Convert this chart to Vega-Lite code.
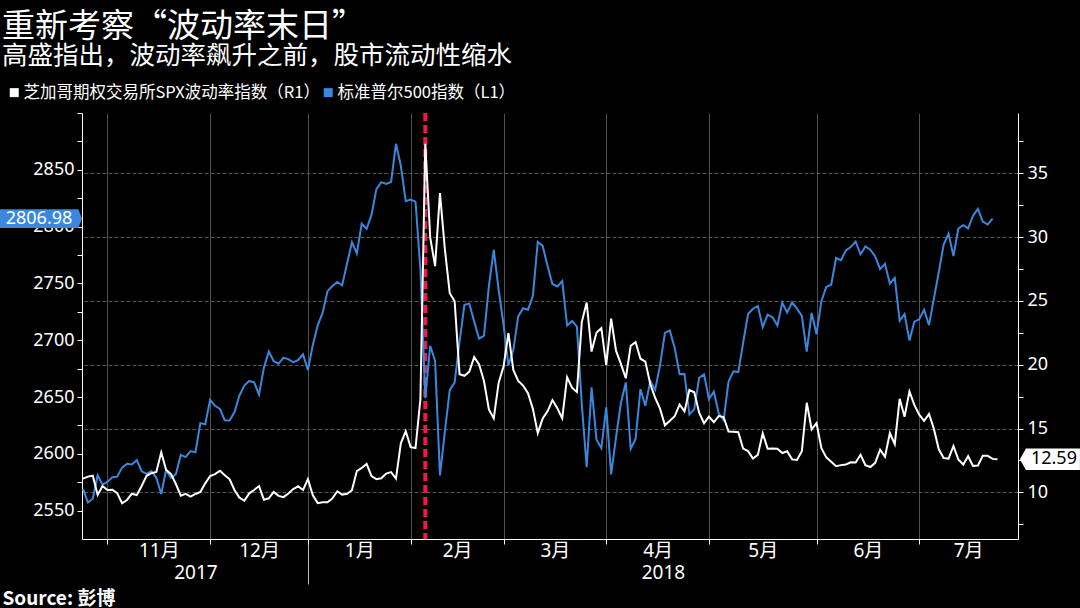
{
  "$schema": "https://vega.github.io/schema/vega-lite/v6.json",
  "width": 936,
  "height": 426,
  "autosize": {"type": "none"},
  "padding": {"left": 82, "top": 113, "right": 62, "bottom": 69},
  "background": "#000000",
  "config": {
    "view": {"stroke": null},
    "axis": {
      "domainColor": "#ffffff",
      "tickColor": "#ffffff",
      "labelColor": "#ffffff",
      "labelFont": "Noto Sans, Noto Sans CJK SC",
      "labelFontSize": 18,
      "titleColor": "#ffffff"
    }
  },
  "title": {
    "text": "重新考察“波动率末日”",
    "subtitle": "高盛指出，波动率飙升之前，股市流动性缩水",
    "anchor": "start",
    "frame": "group",
    "dx": -80,
    "offset": 15,
    "font": "Noto Sans CJK SC",
    "fontSize": 33,
    "fontWeight": "normal",
    "color": "#ffffff",
    "subtitleFont": "Noto Sans CJK SC",
    "subtitleFontSize": 25.5,
    "subtitleColor": "#ffffff",
    "subtitlePadding": 0
  },
  "datasets": {
    "mkt": [
      {"i":0,"date":"2017-10-24","spx":2569.13,"vix":11.07},
      {"i":1,"date":"2017-10-25","spx":2557.15,"vix":11.23},
      {"i":2,"date":"2017-10-26","spx":2560.40,"vix":11.30},
      {"i":3,"date":"2017-10-27","spx":2581.07,"vix":9.80},
      {"i":4,"date":"2017-10-30","spx":2572.83,"vix":10.50},
      {"i":5,"date":"2017-10-31","spx":2575.26,"vix":10.18},
      {"i":6,"date":"2017-11-01","spx":2579.36,"vix":10.20},
      {"i":7,"date":"2017-11-02","spx":2579.85,"vix":9.93},
      {"i":8,"date":"2017-11-03","spx":2587.84,"vix":9.14},
      {"i":9,"date":"2017-11-06","spx":2591.13,"vix":9.40},
      {"i":10,"date":"2017-11-07","spx":2590.64,"vix":9.89},
      {"i":11,"date":"2017-11-08","spx":2594.38,"vix":9.78},
      {"i":12,"date":"2017-11-09","spx":2584.62,"vix":10.50},
      {"i":13,"date":"2017-11-10","spx":2582.30,"vix":11.29},
      {"i":14,"date":"2017-11-13","spx":2584.84,"vix":11.50},
      {"i":15,"date":"2017-11-14","spx":2578.87,"vix":11.59},
      {"i":16,"date":"2017-11-15","spx":2564.62,"vix":13.13},
      {"i":17,"date":"2017-11-16","spx":2585.64,"vix":11.76},
      {"i":18,"date":"2017-11-17","spx":2578.85,"vix":11.43},
      {"i":19,"date":"2017-11-20","spx":2582.14,"vix":10.65},
      {"i":20,"date":"2017-11-21","spx":2599.03,"vix":9.73},
      {"i":21,"date":"2017-11-22","spx":2597.08,"vix":9.88},
      {"i":22,"date":"2017-11-24","spx":2602.42,"vix":9.67},
      {"i":23,"date":"2017-11-27","spx":2601.42,"vix":9.87},
      {"i":24,"date":"2017-11-28","spx":2627.04,"vix":10.03},
      {"i":25,"date":"2017-11-29","spx":2626.07,"vix":10.70},
      {"i":26,"date":"2017-11-30","spx":2647.58,"vix":11.28},
      {"i":27,"date":"2017-12-01","spx":2642.22,"vix":11.43},
      {"i":28,"date":"2017-12-04","spx":2639.44,"vix":11.68},
      {"i":29,"date":"2017-12-05","spx":2629.57,"vix":11.33},
      {"i":30,"date":"2017-12-06","spx":2629.27,"vix":11.02},
      {"i":31,"date":"2017-12-07","spx":2636.98,"vix":10.16},
      {"i":32,"date":"2017-12-08","spx":2651.50,"vix":9.58},
      {"i":33,"date":"2017-12-11","spx":2659.99,"vix":9.34},
      {"i":34,"date":"2017-12-12","spx":2664.11,"vix":9.92},
      {"i":35,"date":"2017-12-13","spx":2662.85,"vix":10.18},
      {"i":36,"date":"2017-12-14","spx":2652.01,"vix":10.49},
      {"i":37,"date":"2017-12-15","spx":2675.81,"vix":9.42},
      {"i":38,"date":"2017-12-18","spx":2690.16,"vix":9.53},
      {"i":39,"date":"2017-12-19","spx":2681.47,"vix":10.03},
      {"i":40,"date":"2017-12-20","spx":2679.25,"vix":9.72},
      {"i":41,"date":"2017-12-21","spx":2684.57,"vix":9.62},
      {"i":42,"date":"2017-12-22","spx":2683.34,"vix":9.90},
      {"i":43,"date":"2017-12-26","spx":2680.50,"vix":10.25},
      {"i":44,"date":"2017-12-27","spx":2682.62,"vix":10.47},
      {"i":45,"date":"2017-12-28","spx":2687.54,"vix":10.18},
      {"i":46,"date":"2017-12-29","spx":2673.61,"vix":11.04},
      {"i":47,"date":"2018-01-02","spx":2695.81,"vix":9.77},
      {"i":48,"date":"2018-01-03","spx":2713.06,"vix":9.15},
      {"i":49,"date":"2018-01-04","spx":2723.99,"vix":9.22},
      {"i":50,"date":"2018-01-05","spx":2743.15,"vix":9.22},
      {"i":51,"date":"2018-01-08","spx":2747.71,"vix":9.52},
      {"i":52,"date":"2018-01-09","spx":2751.29,"vix":10.08},
      {"i":53,"date":"2018-01-10","spx":2748.23,"vix":9.82},
      {"i":54,"date":"2018-01-11","spx":2767.56,"vix":9.88},
      {"i":55,"date":"2018-01-12","spx":2786.24,"vix":10.16},
      {"i":56,"date":"2018-01-16","spx":2776.42,"vix":11.66},
      {"i":57,"date":"2018-01-17","spx":2802.56,"vix":11.91},
      {"i":58,"date":"2018-01-18","spx":2798.03,"vix":12.22},
      {"i":59,"date":"2018-01-19","spx":2810.30,"vix":11.27},
      {"i":60,"date":"2018-01-22","spx":2832.97,"vix":11.03},
      {"i":61,"date":"2018-01-23","spx":2839.13,"vix":11.10},
      {"i":62,"date":"2018-01-24","spx":2837.54,"vix":11.47},
      {"i":63,"date":"2018-01-25","spx":2839.25,"vix":11.58},
      {"i":64,"date":"2018-01-26","spx":2872.87,"vix":11.08},
      {"i":65,"date":"2018-01-29","spx":2853.53,"vix":13.84},
      {"i":66,"date":"2018-01-30","spx":2822.43,"vix":14.79},
      {"i":67,"date":"2018-01-31","spx":2823.81,"vix":13.54},
      {"i":68,"date":"2018-02-01","spx":2821.98,"vix":13.47},
      {"i":69,"date":"2018-02-02","spx":2762.13,"vix":17.31},
      {"i":70,"date":"2018-02-05","spx":2648.94,"vix":37.32},
      {"i":71,"date":"2018-02-06","spx":2695.14,"vix":29.98},
      {"i":72,"date":"2018-02-07","spx":2681.66,"vix":27.73},
      {"i":73,"date":"2018-02-08","spx":2581.00,"vix":33.46},
      {"i":74,"date":"2018-02-09","spx":2619.55,"vix":29.06},
      {"i":75,"date":"2018-02-12","spx":2656.00,"vix":25.61},
      {"i":76,"date":"2018-02-13","spx":2662.94,"vix":24.97},
      {"i":77,"date":"2018-02-14","spx":2698.63,"vix":19.26},
      {"i":78,"date":"2018-02-15","spx":2731.20,"vix":19.13},
      {"i":79,"date":"2018-02-16","spx":2732.22,"vix":19.46},
      {"i":80,"date":"2018-02-20","spx":2716.26,"vix":20.60},
      {"i":81,"date":"2018-02-21","spx":2701.33,"vix":20.02},
      {"i":82,"date":"2018-02-22","spx":2703.96,"vix":18.72},
      {"i":83,"date":"2018-02-23","spx":2747.30,"vix":16.49},
      {"i":84,"date":"2018-02-26","spx":2779.60,"vix":15.80},
      {"i":85,"date":"2018-02-27","spx":2744.28,"vix":18.59},
      {"i":86,"date":"2018-02-28","spx":2713.83,"vix":19.85},
      {"i":87,"date":"2018-03-01","spx":2677.67,"vix":22.47},
      {"i":88,"date":"2018-03-02","spx":2691.25,"vix":19.59},
      {"i":89,"date":"2018-03-05","spx":2720.94,"vix":18.73},
      {"i":90,"date":"2018-03-06","spx":2728.12,"vix":18.36},
      {"i":91,"date":"2018-03-07","spx":2726.80,"vix":17.76},
      {"i":92,"date":"2018-03-08","spx":2738.97,"vix":16.54},
      {"i":93,"date":"2018-03-09","spx":2786.57,"vix":14.64},
      {"i":94,"date":"2018-03-12","spx":2783.02,"vix":15.78},
      {"i":95,"date":"2018-03-13","spx":2765.31,"vix":16.35},
      {"i":96,"date":"2018-03-14","spx":2749.48,"vix":17.23},
      {"i":97,"date":"2018-03-15","spx":2747.33,"vix":16.59},
      {"i":98,"date":"2018-03-16","spx":2752.01,"vix":15.80},
      {"i":99,"date":"2018-03-19","spx":2712.92,"vix":19.02},
      {"i":100,"date":"2018-03-20","spx":2716.94,"vix":18.20},
      {"i":101,"date":"2018-03-21","spx":2711.93,"vix":17.86},
      {"i":102,"date":"2018-03-22","spx":2643.69,"vix":23.34},
      {"i":103,"date":"2018-03-23","spx":2588.26,"vix":24.87},
      {"i":104,"date":"2018-03-26","spx":2658.55,"vix":21.03},
      {"i":105,"date":"2018-03-27","spx":2612.62,"vix":22.50},
      {"i":106,"date":"2018-03-28","spx":2605.00,"vix":22.87},
      {"i":107,"date":"2018-03-29","spx":2640.87,"vix":19.97},
      {"i":108,"date":"2018-04-02","spx":2581.88,"vix":23.62},
      {"i":109,"date":"2018-04-03","spx":2614.45,"vix":21.10},
      {"i":110,"date":"2018-04-04","spx":2644.69,"vix":20.06},
      {"i":111,"date":"2018-04-05","spx":2662.84,"vix":18.94},
      {"i":112,"date":"2018-04-06","spx":2604.47,"vix":21.49},
      {"i":113,"date":"2018-04-09","spx":2613.16,"vix":21.77},
      {"i":114,"date":"2018-04-10","spx":2656.87,"vix":20.47},
      {"i":115,"date":"2018-04-11","spx":2642.19,"vix":20.24},
      {"i":116,"date":"2018-04-12","spx":2663.99,"vix":18.49},
      {"i":117,"date":"2018-04-13","spx":2656.30,"vix":17.41},
      {"i":118,"date":"2018-04-16","spx":2677.84,"vix":16.56},
      {"i":119,"date":"2018-04-17","spx":2706.39,"vix":15.25},
      {"i":120,"date":"2018-04-18","spx":2708.64,"vix":15.60},
      {"i":121,"date":"2018-04-19","spx":2693.13,"vix":15.96},
      {"i":122,"date":"2018-04-20","spx":2670.14,"vix":16.88},
      {"i":123,"date":"2018-04-23","spx":2670.29,"vix":16.34},
      {"i":124,"date":"2018-04-24","spx":2634.56,"vix":18.02},
      {"i":125,"date":"2018-04-25","spx":2639.40,"vix":17.84},
      {"i":126,"date":"2018-04-26","spx":2666.94,"vix":16.24},
      {"i":127,"date":"2018-04-27","spx":2669.91,"vix":15.41},
      {"i":128,"date":"2018-04-30","spx":2648.05,"vix":15.93},
      {"i":129,"date":"2018-05-01","spx":2654.80,"vix":15.49},
      {"i":130,"date":"2018-05-02","spx":2635.67,"vix":15.97},
      {"i":131,"date":"2018-05-03","spx":2629.73,"vix":15.90},
      {"i":132,"date":"2018-05-04","spx":2663.42,"vix":14.77},
      {"i":133,"date":"2018-05-07","spx":2672.63,"vix":14.75},
      {"i":134,"date":"2018-05-08","spx":2671.92,"vix":14.71},
      {"i":135,"date":"2018-05-09","spx":2697.79,"vix":13.42},
      {"i":136,"date":"2018-05-10","spx":2723.07,"vix":13.23},
      {"i":137,"date":"2018-05-11","spx":2727.72,"vix":12.65},
      {"i":138,"date":"2018-05-14","spx":2730.13,"vix":12.93},
      {"i":139,"date":"2018-05-15","spx":2711.45,"vix":14.63},
      {"i":140,"date":"2018-05-16","spx":2722.46,"vix":13.42},
      {"i":141,"date":"2018-05-17","spx":2720.13,"vix":13.43},
      {"i":142,"date":"2018-05-18","spx":2712.97,"vix":13.42},
      {"i":143,"date":"2018-05-21","spx":2733.01,"vix":13.08},
      {"i":144,"date":"2018-05-22","spx":2724.44,"vix":13.22},
      {"i":145,"date":"2018-05-23","spx":2733.29,"vix":12.58},
      {"i":146,"date":"2018-05-24","spx":2727.76,"vix":12.53},
      {"i":147,"date":"2018-05-25","spx":2721.33,"vix":13.22},
      {"i":148,"date":"2018-05-29","spx":2689.86,"vix":17.02},
      {"i":149,"date":"2018-05-30","spx":2724.01,"vix":14.94},
      {"i":150,"date":"2018-05-31","spx":2705.27,"vix":15.43},
      {"i":151,"date":"2018-06-01","spx":2734.62,"vix":13.46},
      {"i":152,"date":"2018-06-04","spx":2746.87,"vix":12.74},
      {"i":153,"date":"2018-06-05","spx":2748.80,"vix":12.40},
      {"i":154,"date":"2018-06-06","spx":2772.35,"vix":12.05},
      {"i":155,"date":"2018-06-07","spx":2770.37,"vix":12.13},
      {"i":156,"date":"2018-06-08","spx":2779.03,"vix":12.18},
      {"i":157,"date":"2018-06-11","spx":2782.00,"vix":12.35},
      {"i":158,"date":"2018-06-12","spx":2786.85,"vix":12.34},
      {"i":159,"date":"2018-06-13","spx":2775.63,"vix":12.94},
      {"i":160,"date":"2018-06-14","spx":2782.49,"vix":12.12},
      {"i":161,"date":"2018-06-15","spx":2779.66,"vix":11.98},
      {"i":162,"date":"2018-06-18","spx":2773.75,"vix":12.31},
      {"i":163,"date":"2018-06-19","spx":2762.59,"vix":13.35},
      {"i":164,"date":"2018-06-20","spx":2767.32,"vix":12.79},
      {"i":165,"date":"2018-06-21","spx":2749.76,"vix":14.64},
      {"i":166,"date":"2018-06-22","spx":2754.88,"vix":13.77},
      {"i":167,"date":"2018-06-25","spx":2717.07,"vix":17.33},
      {"i":168,"date":"2018-06-26","spx":2723.06,"vix":15.92},
      {"i":169,"date":"2018-06-27","spx":2699.63,"vix":17.91},
      {"i":170,"date":"2018-06-28","spx":2716.31,"vix":16.85},
      {"i":171,"date":"2018-06-29","spx":2718.37,"vix":16.09},
      {"i":172,"date":"2018-07-02","spx":2726.71,"vix":15.60},
      {"i":173,"date":"2018-07-03","spx":2713.22,"vix":16.14},
      {"i":174,"date":"2018-07-05","spx":2736.61,"vix":14.97},
      {"i":175,"date":"2018-07-06","spx":2759.82,"vix":13.37},
      {"i":176,"date":"2018-07-09","spx":2784.17,"vix":12.69},
      {"i":177,"date":"2018-07-10","spx":2793.84,"vix":12.64},
      {"i":178,"date":"2018-07-11","spx":2774.02,"vix":13.63},
      {"i":179,"date":"2018-07-12","spx":2798.29,"vix":12.58},
      {"i":180,"date":"2018-07-13","spx":2801.31,"vix":12.18},
      {"i":181,"date":"2018-07-16","spx":2798.43,"vix":12.83},
      {"i":182,"date":"2018-07-17","spx":2809.55,"vix":12.06},
      {"i":183,"date":"2018-07-18","spx":2815.62,"vix":12.10},
      {"i":184,"date":"2018-07-19","spx":2804.49,"vix":12.87},
      {"i":185,"date":"2018-07-20","spx":2801.83,"vix":12.86},
      {"i":186,"date":"2018-07-23","spx":2806.98,"vix":12.62},
      {"i":187,"date":"2018-07-24","spx":null,"vix":12.59}
    ]
  },
  "layer": [
    {
      "data": {"values": [{"i": 70, "date": "2018-02-05", "event": "波动率飙升"}]},
      "mark": {"type": "rule", "color": "#f0194f", "strokeWidth": 4, "strokeDash": [8, 4]},
      "encoding": {
        "x": {
          "field": "i", "type": "quantitative",
          "scale": {"domain": [-0.2, 191.2], "nice": false, "zero": false},
          "axis": {
            "orient": "bottom",
            "values": [23, 46, 118.6],
            "labelExpr": "datum.value < 30 ? '2017' : (datum.value > 100 ? '2018' : '')",
            "domain": false, "grid": false, "ticks": true, "tickSize": 45,
            "tickColor": {"condition": {"test": "datum.value === 46", "value": "#bbbbbb"}, "value": "transparent"},
            "labelPadding": -21, "labelFontSize": 19, "labelOverlap": false, "labelFlush": false,
            "title": "Source: 彭博", "titleFont": "Noto Sans CJK SC", "titleFontSize": 19, "titleFontWeight": "bold",
            "titleAnchor": "start", "titleAlign": "left", "titleBaseline": "alphabetic", "titleX": -80, "titleY": 65
          }
        }
      }
    },
    {
      "data": {"name": "mkt"},
      "mark": {"type": "line", "strokeWidth": 2},
      "encoding": {
        "x": {
          "field": "i", "type": "quantitative",
          "scale": {"domain": [-0.2, 191.2], "nice": false, "zero": false},
          "axis": {
            "orient": "bottom",
            "values": [5, 26, 46, 67, 86, 107, 128, 150, 171],
            "labels": false, "grid": true, "gridColor": "#505050", "ticks": true, "tickSize": 5,
            "domain": true, "title": null
          }
        },
        "y": {
          "field": "spx", "type": "quantitative",
          "scale": {"domain": [2525, 2900], "nice": false, "zero": false},
          "axis": {
            "orient": "left", "title": null, "grid": false, "format": "d",
            "values": [2550, 2575, 2600, 2625, 2650, 2675, 2700, 2725, 2750, 2775, 2800, 2825, 2850, 2875, 2900],
            "labelExpr": "datum.value % 50 === 0 && datum.value < 2900 ? datum.label : ''",
            "tickSize": 5, "labelPadding": 3
          }
        },
        "color": {
          "datum": "标准普尔500指数（L1）", "type": "nominal",
          "scale": {
            "domain": ["芝加哥期权交易所SPX波动率指数（R1）", "标准普尔500指数（L1）"],
            "range": ["#ffffff", "#3a87de"]
          },
          "legend": {
            "orient": "none", "legendX": -76, "legendY": -29, "direction": "horizontal",
            "title": null, "padding": 0,
            "symbolType": "square", "symbolSize": 4, "symbolStrokeWidth": 7,
            "labelFont": "Noto Sans CJK SC", "labelFontSize": 16.5, "labelColor": "#ffffff",
            "labelLimit": 500, "labelOffset": 1, "columnPadding": -11
          }
        }
      }
    },
    {
      "data": {"name": "mkt"},
      "mark": {"type": "line", "strokeWidth": 2},
      "encoding": {
        "x": {
          "field": "i", "type": "quantitative",
          "scale": {"domain": [-0.2, 191.2], "nice": false, "zero": false},
          "axis": {
            "orient": "bottom",
            "values": [15.5, 36, 56.5, 76.5, 96.5, 117.5, 139, 160.5, 181],
            "labelExpr": "datum.value < 25 ? '11月' : datum.value < 45 ? '12月' : datum.value < 65 ? '1月' : datum.value < 85 ? '2月' : datum.value < 105 ? '3月' : datum.value < 125 ? '4月' : datum.value < 150 ? '5月' : datum.value < 170 ? '6月' : '7月'",
            "labels": true, "ticks": false, "domain": false, "grid": false, "title": null,
            "labelPadding": 2, "labelFontSize": 19, "labelOverlap": false, "labelFlush": false
          }
        },
        "y": {
          "field": "vix", "type": "quantitative",
          "scale": {"domain": [6.34, 39.73], "nice": false, "zero": false},
          "axis": {
            "orient": "right", "title": null,
            "values": [7.5, 10, 12.5, 15, 17.5, 20, 22.5, 25, 27.5, 30, 32.5, 35, 37.5],
            "labelExpr": "datum.value % 5 === 0 ? datum.label : ''",
            "grid": true,
            "gridColor": {"condition": {"test": "datum.value % 5 === 0", "value": "#555555"}, "value": "transparent"},
            "gridDash": [4, 2],
            "tickSize": 5, "labelPadding": 4
          }
        },
        "color": {"datum": "芝加哥期权交易所SPX波动率指数（R1）", "type": "nominal"}
      }
    },
    {
      "data": {"name": "mkt"},
      "transform": [{"filter": "datum.i === 186"}],
      "mark": {"type": "point", "shape": "M-1,-0.23L0.91,-0.23L1,0L0.91,0.23L-1,0.23Z", "size": 6724, "filled": true, "color": "#3a87de", "opacity": 1, "clip": false},
      "encoding": {
        "x": {"datum": -8.58, "type": "quantitative", "scale": {"domain": [-0.2, 191.2], "nice": false, "zero": false}, "axis": null},
        "y": {"field": "spx", "type": "quantitative", "scale": {"domain": [2525, 2900], "nice": false, "zero": false}, "axis": null}
      }
    },
    {
      "data": {"name": "mkt"},
      "transform": [{"filter": "datum.i === 186"}],
      "mark": {"type": "text", "color": "#ffffff", "font": "Noto Sans", "fontSize": 18, "align": "center", "baseline": "middle", "dx": -2, "clip": false},
      "encoding": {
        "x": {"datum": -8.58, "type": "quantitative", "scale": {"domain": [-0.2, 191.2], "nice": false, "zero": false}, "axis": null},
        "y": {"field": "spx", "type": "quantitative", "scale": {"domain": [2525, 2900], "nice": false, "zero": false}, "axis": null},
        "text": {"field": "spx", "type": "quantitative", "format": ".2f"}
      }
    },
    {
      "data": {"name": "mkt"},
      "transform": [{"filter": "datum.i === 187"}],
      "mark": {"type": "point", "shape": "M-1,0L-0.8,-0.36L1,-0.36L1,0.36L-0.8,0.36Z", "size": 3600, "filled": true, "color": "#ffffff", "opacity": 1, "clip": false},
      "encoding": {
        "x": {"datum": 197.73, "type": "quantitative", "scale": {"domain": [-0.2, 191.2], "nice": false, "zero": false}, "axis": null},
        "y": {"field": "vix", "type": "quantitative", "scale": {"domain": [6.34, 39.73], "nice": false, "zero": false}, "axis": null}
      }
    },
    {
      "data": {"name": "mkt"},
      "transform": [{"filter": "datum.i === 187"}],
      "mark": {"type": "text", "color": "#000000", "font": "Noto Sans", "fontSize": 18, "align": "center", "baseline": "middle", "dx": 4, "clip": false},
      "encoding": {
        "x": {"datum": 197.73, "type": "quantitative", "scale": {"domain": [-0.2, 191.2], "nice": false, "zero": false}, "axis": null},
        "y": {"field": "vix", "type": "quantitative", "scale": {"domain": [6.34, 39.73], "nice": false, "zero": false}, "axis": null},
        "text": {"field": "vix", "type": "quantitative", "format": ".2f"}
      }
    }
  ],
  "resolve": {"scale": {"y": "independent"}, "axis": {"x": "independent", "y": "independent"}}
}
